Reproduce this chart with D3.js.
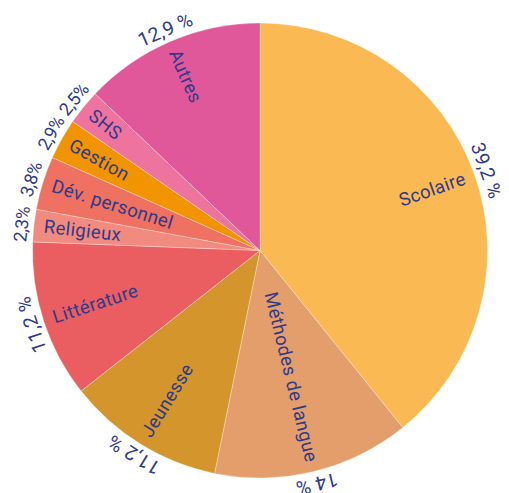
<!DOCTYPE html>
<html>
<head>
<meta charset="utf-8">
<script src="https://cdn.jsdelivr.net/npm/d3@7"></script>
<style>
  body { margin: 0; background: #fff; }
  text { font-family: Roboto, "Liberation Sans", sans-serif; fill: #2f3a8a; }
</style>
</head>
<body>
<div id="chart"></div>
<script>
const width = 509
const height = 493
const cx = 260
const cy = 250.5
const radius = 227.5

// data
const categories = ['Scolaire', 'Méthodes de langue', 'Jeunesse', 'Littérature', 'Religieux',
    'Dév. personnel', 'Gestion', 'SHS', 'Autres']
const shares = [39.2, 14, 11.2, 11.2, 2.3, 3.8, 2.9, 2.5, 12.9]
const shareLabels = ['39,2 %', '14 %', '11,2 %', '11,2 %', '2,3%', '3,8%', '2,9%', '2,5%', '12,9 %']
const colors = ['#fbb954', '#e49e6c', '#d4952c', '#ea5e61', '#f28b7f', '#ee7161', '#f29300', '#ef739f', '#e0589a']

const data = categories.map((c, i) => ({ name: c, value: shares[i], label: shareLabels[i], color: colors[i] }))

let svg = d3.select('#chart').append('svg').attr('width', width).attr('height', height)

let elementGroup = svg.append('g').attr('transform', `translate(${cx}, ${cy})`)

let pie = d3.pie().value(d => d.value).sort(null)
let arc = d3.arc().innerRadius(0).outerRadius(radius)

let arcs = pie(data)

elementGroup.selectAll('path.slice').data(arcs).enter()
    .append('path')
    .attr('class', 'slice')
    .attr('d', arc)
    .attr('fill', d => d.data.color)
    .attr('stroke', '#fff')
    .attr('stroke-opacity', 0.5)
    .attr('stroke-width', 0.6)

const deg = a => a * 180 / Math.PI
const mid = d => (d.startAngle + d.endAngle) / 2
const small = d => d.data.value < 5

// category names, radial
elementGroup.selectAll('text.name').data(arcs).enter()
    .append('text')
    .attr('class', 'name')
    .attr('font-size', 18.5)
    .attr('letter-spacing', 0.4)
    .attr('dominant-baseline', 'central')
    .attr('text-anchor', d => mid(d) < Math.PI ? 'end' : 'start')
    .attr('transform', d => {
        let a = mid(d)
        let r = radius - 10
        let rot = a < Math.PI ? deg(a) - 90 : deg(a) + 90
        return `translate(${r * Math.sin(a)}, ${-r * Math.cos(a)}) rotate(${rot})`
    })
    .text(d => d.data.name)

// percentages, tangential outside the pie
elementGroup.selectAll('text.share').data(arcs).enter()
    .append('text')
    .attr('class', 'share')
    .attr('font-size', d => small(d) ? 18 : 19.5)
    .attr('letter-spacing', d => small(d) ? -0.4 : 0.3)
    .attr('text-anchor', 'middle')
    .attr('transform', d => {
        let a = mid(d)
        let r = radius + 6
        return `translate(${r * Math.sin(a)}, ${-r * Math.cos(a)}) rotate(${deg(a)})`
    })
    .text(d => d.data.label)
</script>
</body>
</html>
